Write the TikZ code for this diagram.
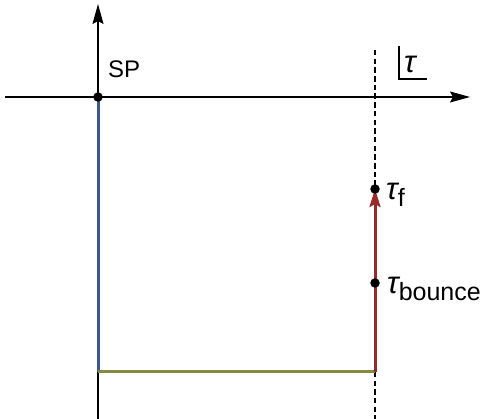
\documentclass[tikz,border=0pt]{standalone}
\usepackage{fontspec}
\setmainfont{Liberation Sans}
\usetikzlibrary{arrows.meta,positioning}
\definecolor{PathBlue}{HTML}{3D5A8E}
\definecolor{PathOlive}{HTML}{858A42}
\definecolor{PathRed}{HTML}{9A2B2B}
\newcommand{\tausym}{{\fontsize{31}{33}\selectfont\itshape τ}}
\newcommand{\tausub}[1]{\raisebox{-7pt}{\fontsize{25}{27}\selectfont #1}}
\tikzset{%
  axis/.style={-{Stealth[length=20pt,width=11pt,inset=3pt]},line width=1.4pt},
  contour/.style={line width=3pt},
  contourarrow/.style={contour,-{Stealth[length=18pt,width=11pt,inset=3pt]}},
  guide/.style={line width=1.1pt,dash pattern=on 5.5pt off 3.2pt},
  dot/.style={circle,fill=black,inner sep=0pt,minimum size=9.5pt},
  lbl/.style={font=\fontsize{24}{26}\selectfont,inner sep=0pt,anchor=base west}
}
\begin{document}
\begin{tikzpicture}[x=1pt,y=-1pt]
  \useasboundingbox (0,0) rectangle (482,419);
  % axes and guide
  \coordinate (xl) at (5,97);
  \coordinate (xr) at (470,97);
  \coordinate (yb) at (98,419);
  \coordinate (yt) at (98,4);
  \coordinate (gt) at (375,50);
  \coordinate (gb) at (375,419);
  % contour points
  \coordinate (origin) at (98,97);
  \coordinate (corner) at (98,372);
  \coordinate (start) at (375,372);
  \coordinate (final) at (375,189);
  \coordinate (bounce) at (375,283);

  \draw[guide] (gt) -- (gb);
  \draw[axis] (xl) -- (xr);
  \draw[axis] (yb) -- (yt);

  \draw[contour,PathBlue] (origin) -- (corner);
  \draw[contour,PathOlive] (corner) -- (start);
  \draw[contourarrow,PathRed] (start) -- (final);

  \node[dot] (sp) at (origin) {};
  \node[dot] (tf) at (final) {};
  \node[dot] (tb) at (bounce) {};

  \node[lbl] (splbl) at (108,78) {SP};
  \node[lbl] (tflbl) at (386,200) {\tausym\tausub{f}};
  \node[lbl] (tblbl) at (387,294) {\tausym\tausub{bounce}};

  % variable box
  \node[lbl] (tau) at (404,73) {\tausym};
  \coordinate (boxtop) at (399,46);
  \coordinate (boxcorner) at (399,79);
  \coordinate (boxright) at (427,79);
  \draw[line width=1.4pt] (boxtop) -- (boxcorner) -- (boxright);
\end{tikzpicture}
\end{document}
